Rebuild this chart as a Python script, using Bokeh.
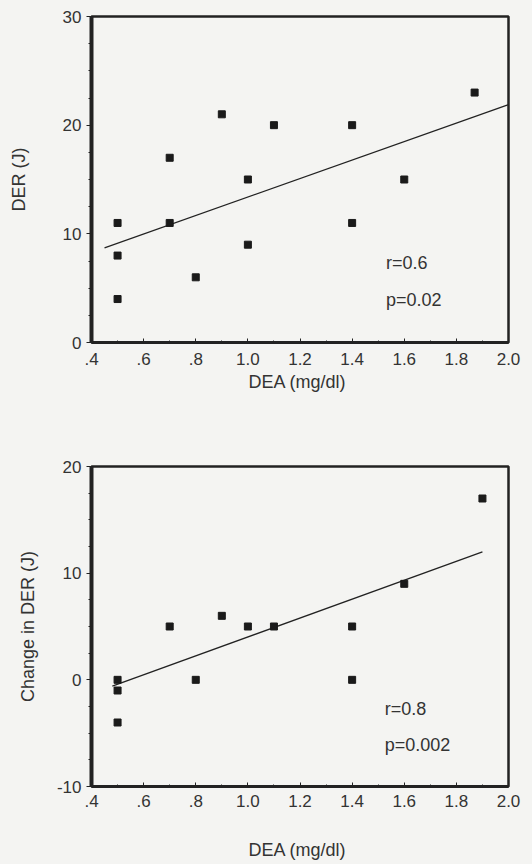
import numpy as np
from bokeh.plotting import figure
from bokeh.layouts import column
from bokeh.models import FixedTicker, Label
from bokeh.embed import file_html
from bokeh.resources import INLINE

# ---------------- data ----------------
# Top panel: DER vs DEA
dea_top = [0.5, 0.5, 0.5, 0.7, 0.7, 0.8, 0.9, 1.0, 1.0, 1.1, 1.4, 1.4, 1.6, 1.87]
der_top = [11, 8, 4, 17, 11, 6, 21, 15, 9, 20, 20, 11, 15, 23]
fit_x_top = [0.45, 2.0]
fit_y_top = [8.7, 21.9]

# Bottom panel: change in DER vs DEA
dea_bot = [0.5, 0.5, 0.5, 0.7, 0.8, 0.9, 1.0, 1.1, 1.4, 1.4, 1.6, 1.9]
dder_bot = [0, -1, -4, 5, 0, 6, 5, 5, 5, 0, 9, 17]
fit_x_bot = [0.48, 1.9]
fit_y_bot = [-0.6, 12.0]

x_ticks = [0.4, 0.6, 0.8, 1.0, 1.2, 1.4, 1.6, 1.8, 2.0]
x_tick_labels = [".4", ".6", ".8", "1.0", "1.2", "1.4", "1.6", "1.8", "2.0"]
y_ticks_top = [0, 10, 20, 30]
y_tick_labels_top = ["0", "10", "20", "30"]
y_ticks_bot = [-10, 0, 10, 20]
y_tick_labels_bot = ["-10", "0", "10", "20"]

x_label = "DEA  (mg/dl)"
y_label_top = "DER (J)"
y_label_bot = "Change in DER (J)"
notes_top = ["r=0.6", "p=0.02"]
notes_bot = ["r=0.8", "p=0.002"]

FONT = "Liberation Sans"
BG = "#f4f4f2"
INK = "#222222"
TXT = "#333333"


def make_panel(xs, ys, fx, fy, yticks, ylabels, ylabel, notes, note_pos,
               height, left, right, top, bottom, y_std, x_std, xl_std):
    p = figure(width=532, height=height, output_backend="svg",
               toolbar_location=None, x_range=(0.4, 2.0),
               y_range=(yticks[0], yticks[-1]),
               min_border_left=left, min_border_right=right,
               min_border_top=top, min_border_bottom=bottom,
               background_fill_color=BG, border_fill_color=BG)
    p.grid.visible = False
    p.outline_line_color = INK
    p.outline_line_width = 2.5

    # x axis
    xa = p.xaxis[0]
    xa.ticker = FixedTicker(ticks=x_ticks,
                            minor_ticks=list(np.round(np.arange(0.4, 2.001, 0.1), 2)))
    xa.major_label_overrides = dict(zip(x_ticks, x_tick_labels))
    xa.axis_label = x_label
    xa.axis_label_text_font = FONT
    xa.axis_label_text_font_style = "normal"
    xa.axis_label_text_font_size = "18px"
    xa.axis_label_text_color = TXT
    xa.axis_label_standoff = x_std
    xa.major_label_text_font = FONT
    xa.major_label_text_font_size = "17px"
    xa.major_label_text_color = TXT
    xa.major_label_standoff = xl_std
    xa.axis_line_width = 3
    xa.axis_line_color = INK
    xa.major_tick_in = 4
    xa.major_tick_out = 0
    xa.minor_tick_in = 2
    xa.minor_tick_out = 0
    xa.major_tick_line_color = INK
    xa.minor_tick_line_color = INK

    # y axis
    ya = p.yaxis[0]
    ya.ticker = FixedTicker(ticks=yticks,
                            minor_ticks=list(np.arange(yticks[0], yticks[-1] + 0.1, 2.5)))
    ya.major_label_overrides = dict(zip(yticks, ylabels))
    ya.axis_label = ylabel
    ya.axis_label_text_font = FONT
    ya.axis_label_text_font_style = "normal"
    ya.axis_label_text_font_size = "18px"
    ya.axis_label_text_color = TXT
    ya.axis_label_standoff = y_std
    ya.major_label_text_font = FONT
    ya.major_label_text_font_size = "17px"
    ya.major_label_text_color = TXT
    ya.major_label_standoff = 5
    ya.axis_line_width = 4
    ya.axis_line_color = INK
    ya.major_tick_out = 5
    ya.major_tick_in = 0
    ya.minor_tick_out = 3
    ya.minor_tick_in = 0
    ya.major_tick_line_color = INK
    ya.minor_tick_line_color = INK

    p.line(fx, fy, line_color=INK, line_width=1.3)
    p.scatter(xs, ys, marker="square", size=7, fill_color="#1a1a1a",
              line_color="#1a1a1a")

    for t, (nx, ny) in zip(notes, note_pos):
        p.add_layout(Label(x=nx, y=ny, text=t, text_font=FONT,
                           text_font_size="18px", text_color=TXT,
                           text_baseline="middle", text_align="left"))
    return p


top = make_panel(dea_top, der_top, fit_x_top, fit_y_top, y_ticks_top,
                 y_tick_labels_top, y_label_top, notes_top,
                 [(1.53, 7.3), (1.53, 3.9)],
                 height=420, left=78, right=24, top=16, bottom=78,
                 y_std=31, x_std=4, xl_std=10)
bot = make_panel(dea_bot, dder_bot, fit_x_bot, fit_y_bot, y_ticks_bot,
                 y_tick_labels_bot, y_label_bot, notes_bot,
                 [(1.525, -2.7), (1.525, -6.1)],
                 height=444, left=91, right=22, top=46, bottom=78,
                 y_std=16, x_std=30, xl_std=8)

layout = column(top, bot, spacing=0)
layout.styles = {"background-color": BG}
open("out.html", "w").write(file_html(layout, INLINE))
